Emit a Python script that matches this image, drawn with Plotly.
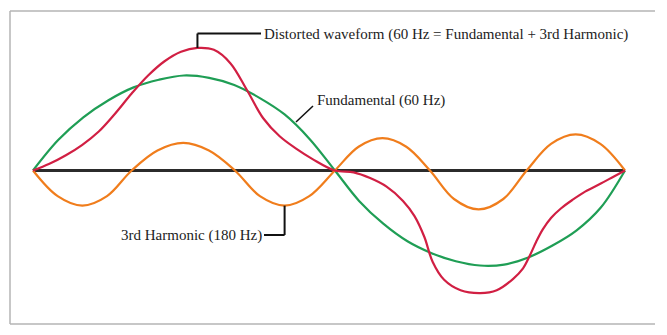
import plotly.graph_objects as go

# ---- data (angle in degrees, amplitude relative to fundamental peak) ----
theta_fund = [0, 15.3, 30.6, 45.9, 61.2, 76.5, 91.8, 107.1, 122.4, 137.7, 153, 168.3, 183.6,
              198.3, 213, 227.7, 242.4, 257.1, 271.8, 286.5, 301.2, 315.9, 330.6, 345.3, 360]
fund = [0, 0.32, 0.56, 0.74, 0.875, 0.955, 1.0, 0.975, 0.90, 0.765, 0.59, 0.33, 0,
        -0.32, -0.56, -0.745, -0.87, -0.955, -1.0, -0.99, -0.915, -0.79, -0.63, -0.39, 0]

theta_harm = [0, 15, 30, 45, 60, 75.7, 91.4, 107, 122.8, 138, 153, 168, 183.6,
              198, 212.5, 227, 241.4, 256, 271, 286, 300.2, 315, 330, 345, 360]
harm = [0, -0.27, -0.37, -0.27, 0, 0.21, 0.29, 0.21, 0, -0.27, -0.37, -0.27, 0,
        0.25, 0.34, 0.25, 0, -0.30, -0.41, -0.30, 0, 0.28, 0.38, 0.28, 0]

theta_dist = [0, 10, 20, 30, 40, 50, 60, 70, 80, 90, 100, 110, 120, 130, 140, 150, 160, 170, 183.6,
              195, 205, 215, 225, 232, 238, 243, 250, 260, 272, 282, 292, 298, 302, 306, 310, 315, 321,
              328, 336, 345, 353, 360]
dist = [0, 0.07, 0.16, 0.27, 0.41, 0.60, 0.81, 1.00, 1.15, 1.25, 1.29, 1.27, 1.13, 0.85, 0.55, 0.36,
        0.23, 0.12, 0, -0.02, -0.08, -0.17, -0.32, -0.48, -0.70, -0.96, -1.15, -1.26, -1.29, -1.26,
        -1.14, -1.03, -0.90, -0.75, -0.62, -0.50, -0.40, -0.31, -0.22, -0.14, -0.065, 0]

axis_x = [0, 360]
axis_y = [0, 0]

label_dist = "Distorted waveform (60 Hz = Fundamental + 3rd Harmonic)"
label_fund = "Fundamental (60 Hz)"
label_harm = "3rd Harmonic (180 Hz)"

# ---- page geometry helpers (pixel -> data) ----
W, H = 667, 335
X0, PXDEG = 33.0, 592.0 / 360.0
Y0, PXUNIT = 170.5, 95.0


def tx(px):
    return (px - X0) / PXDEG


def vy(py):
    return (Y0 - py) / PXUNIT


GREEN = "#1f9e55"
RED = "#d11f43"
ORANGE = "#f07d1c"
AXIS = "#2b2b2b"
TEXT = "#222222"
FONT = "Liberation Serif"

fig = go.Figure()
fig.add_trace(go.Scatter(x=axis_x, y=axis_y, mode="lines", line=dict(color=AXIS, width=3)))
fig.add_trace(go.Scatter(x=theta_fund, y=fund, mode="lines", line=dict(color=GREEN, width=2.2, shape="spline")))
fig.add_trace(go.Scatter(x=theta_harm, y=harm, mode="lines", line=dict(color=ORANGE, width=2.2, shape="spline")))
fig.add_trace(go.Scatter(x=theta_dist, y=dist, mode="lines", line=dict(color=RED, width=2.2, shape="spline")))

# leader anchor points taken from the data
i_peak = dist.index(max(dist))
peak_x, peak_y = theta_dist[i_peak], dist[i_peak]
first_half = [i for i, t in enumerate(theta_harm) if 100 < t < 180]
i_tr = min(first_half, key=lambda i: harm[i])
tr_x, tr_y = theta_harm[i_tr], harm[i_tr]

lead = dict(color="#111111", width=2)
shapes = [
    # distorted leader
    dict(type="line", xref="x", yref="y", x0=peak_x, y0=peak_y, x1=peak_x, y1=vy(33.5), line=lead),
    dict(type="line", xref="x", yref="y", x0=peak_x, y0=vy(33.5), x1=tx(261), y1=vy(33.5), line=lead),
    # fundamental leader
    dict(type="line", xref="x", yref="y", x0=tx(296), y0=vy(122), x1=tx(313), y1=vy(106),
         line=dict(color="#111111", width=1.5)),
    # harmonic leader
    dict(type="line", xref="x", yref="y", x0=tr_x, y0=tr_y, x1=tr_x, y1=vy(235), line=lead),
    dict(type="line", xref="x", yref="y", x0=tr_x, y0=vy(235), x1=tx(264), y1=vy(235), line=lead),
]
# frame
border = dict(color="#b5b5b5", width=1.5)
shapes += [
    dict(type="line", xref="paper", yref="paper", x0=10 / W, x1=10 / W, y0=1 - 11 / H, y1=1 - 324 / H, line=border),
    dict(type="line", xref="paper", yref="paper", x0=10 / W, x1=655 / W, y0=1 - 11 / H, y1=1 - 11 / H, line=border),
    dict(type="line", xref="paper", yref="paper", x0=10 / W, x1=655 / W, y0=1 - 324 / H, y1=1 - 324 / H, line=border),
]

ann_font = dict(family=FONT, size=15, color=TEXT)
annotations = [
    dict(x=tx(262), y=vy(34), text=label_dist, showarrow=False, xanchor="left", yanchor="middle", font=ann_font),
    dict(x=tx(315), y=vy(100), text=label_fund, showarrow=False, xanchor="left", yanchor="middle", font=ann_font),
    dict(x=tx(264), y=vy(235), text=label_harm, showarrow=False, xanchor="right", yanchor="middle", font=ann_font),
]

fig.update_layout(
    width=W, height=H,
    margin=dict(l=0, r=0, t=0, b=0),
    paper_bgcolor="white", plot_bgcolor="white",
    showlegend=False,
    xaxis=dict(range=[tx(0), tx(W)], visible=False, fixedrange=True),
    yaxis=dict(range=[vy(H), vy(0)], visible=False, fixedrange=True),
    shapes=shapes,
    annotations=annotations,
)

fig.write_html("out.html")
